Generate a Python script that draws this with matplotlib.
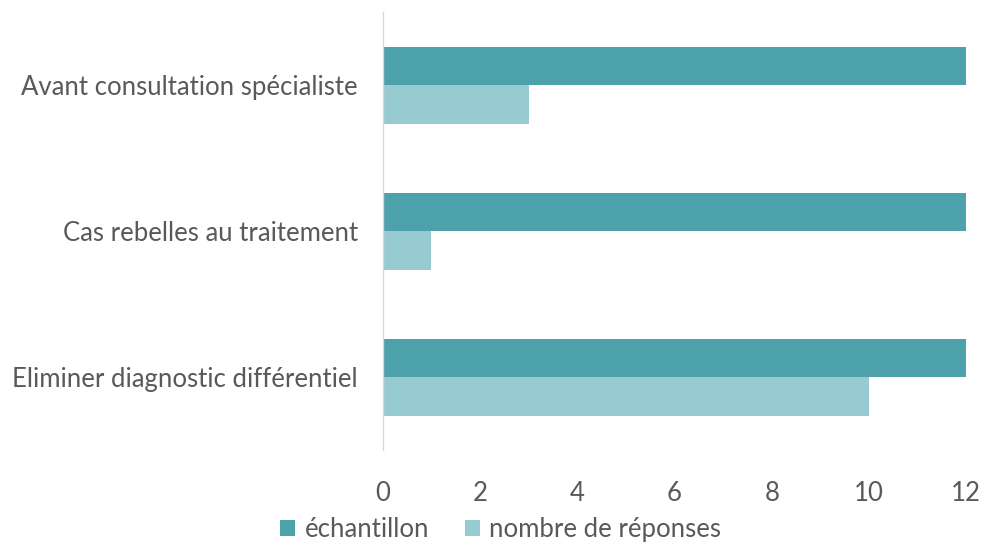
import numpy as np
import matplotlib.pyplot as plt

plt.rcParams['font.family'] = ['Lato', 'DejaVu Sans']

# data
categories = ["Avant consultation spécialiste",
              "Cas rebelles au traitement",
              "Eliminer diagnostic différentiel"]
echantillon = [12, 12, 12]
reponses = [3, 1, 10]
series_names = ["échantillon", "nombre de réponses"]

dark = '#4DA1AB'
light = '#97CBD1'
grey = '#595959'

fig = plt.figure(figsize=(9.84, 5.47), dpi=100)
ax = fig.add_axes([0.389, 0.177, 0.593, 0.801])

y = np.arange(len(categories))
h = 0.264
ax.barh(y - h / 2, echantillon, height=h, color=dark, label=series_names[0])
ax.barh(y + h / 2, reponses, height=h, color=light, label=series_names[1])

ax.set_xlim(0, 12)
ax.set_ylim(len(categories) - 0.5, -0.5)
ax.set_xticks(np.arange(0, 13, 2))
ax.set_yticks(y)
ax.set_yticklabels(categories)

for s in ['top', 'right', 'bottom']:
    ax.spines[s].set_visible(False)
ax.spines['left'].set_color('#D9D9D9')
ax.spines['left'].set_linewidth(1)

ax.tick_params(axis='both', length=0, labelsize=18.5, colors=grey)
ax.tick_params(axis='x', pad=22)
ax.tick_params(axis='y', pad=18)

ax.legend(loc='center', bbox_to_anchor=(0.202, -0.181), ncol=2, frameon=False,
          fontsize=18.5, labelcolor=grey, handlelength=0.6, handleheight=0.6,
          handletextpad=0.35, columnspacing=1.4, borderpad=0.2)

fig.savefig('out.png', dpi=100)
